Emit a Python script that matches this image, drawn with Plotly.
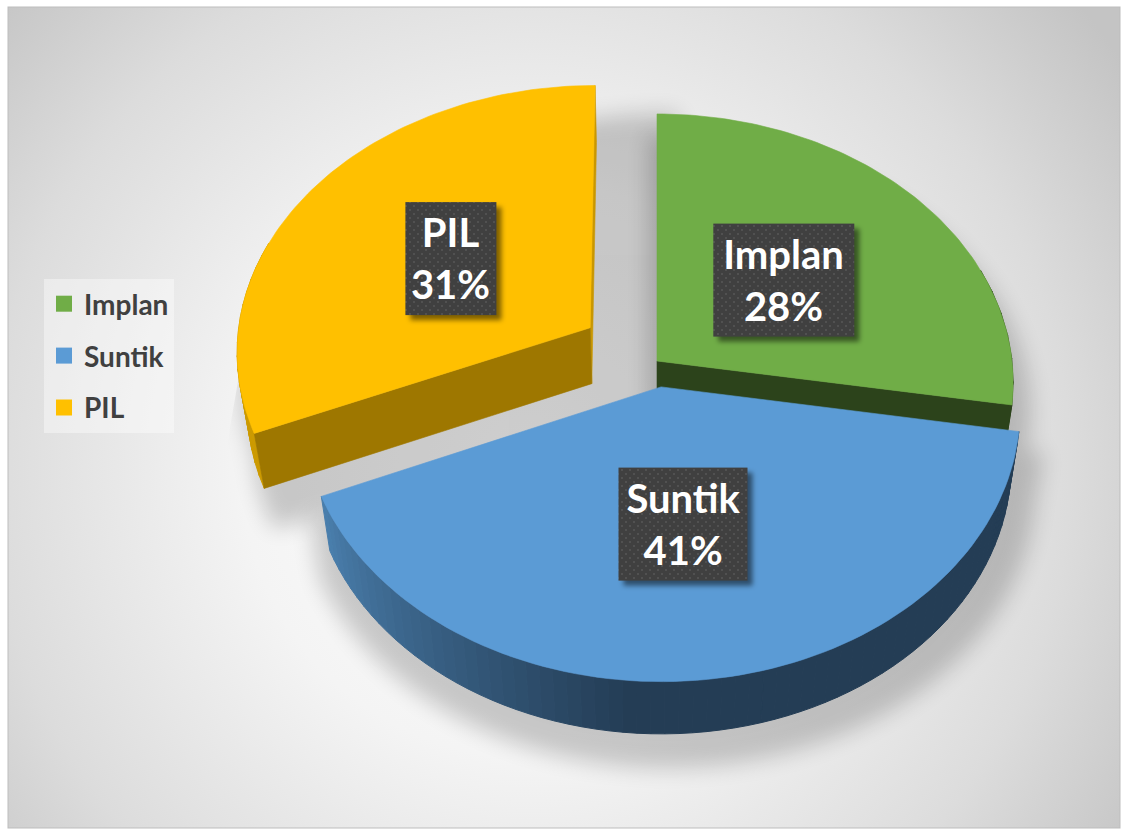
import base64
import math
import plotly.graph_objects as go

categories = ["Implan", "Suntik", "PIL"]
values = [27.6, 41.0, 31.4]
pulls = [0.0, 0.097, 0.228]
top_colors = ["#70AD47", "#5B9BD5", "#FFC000"]
wall_colors = ["#2C431B", "#243D55", "#9E7700"]
label_sizes = [(141, 113), (129, 113), (91, 113)]
label_radius = [0.48, 0.49, 0.49]
shadow_grow = [(1.07, 1.03), (1.05, 1.04), (1.22, 1.03)]
shadow_shift = [(8, 22), (8, 20), (30, 28)]

# Projection of the tilted pie on the page (pixel axes)
CX, CY, A, B, H, K, M = 657, 361, 355, 266.8, 57, 0.08, 0.025


def project(X, F, z=0.0):
    s = 1 / (1 - K * F + M * z)
    return CX + A * X * s, CY + (B * F + H * z) * s


def point(theta, r, pull, mid, z=0.0):
    X = r * math.sin(theta) + pull * math.sin(mid)
    F = -r * math.cos(theta) - pull * math.cos(mid)
    return project(X, F, z)


def hexmix(c1, c2, t):
    t = max(0, min(1, t))
    a = [int(c1[i:i + 2], 16) for i in (1, 3, 5)]
    b = [int(c2[i:i + 2], 16) for i in (1, 3, 5)]
    return "#%02x%02x%02x" % tuple(round(p + (q - p) * t) for p, q in zip(a, b))


total = sum(values)
slices = []
start = 0.0
for i, (name, v, pull, top, wall, size) in enumerate(zip(categories, values, pulls, top_colors, wall_colors, label_sizes)):
    end = start + v / total * 2 * math.pi
    slices.append(dict(name=name, v=v, pull=pull, top=top, wall=wall, size=size,
                       a0=start, a1=end, mid=(start + end) / 2, lr=label_radius[i],
                       grow=shadow_grow[i], shift=shadow_shift[i]))
    start = end


def rim(sl, z=0.0, n=90):
    return [point(sl["a0"] + (sl["a1"] - sl["a0"]) * i / n, 1, sl["pull"], sl["mid"], z) for i in range(n + 1)]


def apex(sl, z=0.0):
    return point(0, 0, sl["pull"], sl["mid"], z)


fig = go.Figure()


def poly(pts, color, width=0.6):
    xs = [p[0] for p in pts] + [pts[0][0]]
    ys = [p[1] for p in pts] + [pts[0][1]]
    fig.add_trace(go.Scatter(x=xs, y=ys, mode="lines", fill="toself", fillcolor=color,
                             line=dict(color=color, width=width), hoverinfo="skip", showlegend=False))


def side_strips(sl, color_fn, n=60):
    top, bot = rim(sl, 0, n), rim(sl, 1, n)
    for i in range(n):
        theta = sl["a0"] + (sl["a1"] - sl["a0"]) * (i + 0.5) / n
        if -math.cos(theta) > -0.35:
            poly([top[i], top[i + 1], bot[i + 1], bot[i]], color_fn(theta), 1.0)


implan, suntik, pil = slices

# PIL (far, pulled out)
poly([apex(pil), point(pil["a1"], 1, pil["pull"], pil["mid"]),
      point(pil["a1"], 1, pil["pull"], pil["mid"], 1), apex(pil, 1)], "#C99700")
side_strips(pil, lambda t: "#CC9A00", 40)
poly([apex(pil), point(pil["a0"], 1, pil["pull"], pil["mid"]),
      point(pil["a0"], 1, pil["pull"], pil["mid"], 1), apex(pil, 1)], pil["wall"])
poly([apex(pil)] + rim(pil), pil["top"])

# Implan
side_strips(implan, lambda t: "#2C431B", 20)
poly([apex(implan), point(implan["a1"], 1, 0, implan["mid"]),
      point(implan["a1"], 1, 0, implan["mid"], 1), apex(implan, 1)], implan["wall"])
poly([apex(implan)] + rim(implan), implan["top"])

# Suntik, with its shaded outer side
side_strips(suntik, lambda t: hexmix("#243D55", "#4A7FAE", (t - math.radians(185)) / (suntik["a1"] - math.radians(185))), 70)
poly([apex(suntik)] + rim(suntik), suntik["top"])

# Legend entries
for sl in slices:
    fig.add_trace(go.Scatter(x=[None], y=[None], mode="markers", name=sl["name"], legendgroup=sl["name"],
                             marker=dict(symbol="square", size=16, color=sl["top"])))


def pts_str(pts):
    return " ".join(f"{x:.1f},{y:.1f}" for x, y in pts)


def silhouette(sl):
    shapes = [[apex(sl)] + rim(sl), [apex(sl, 1)] + rim(sl, 1), rim(sl) + rim(sl, 1)[::-1]]
    all_pts = [p for s in shapes for p in s]
    cx = sum(p[0] for p in all_pts) / len(all_pts)
    ymin = min(p[1] for p in all_pts)
    gx, gy = sl["grow"]
    dx, dy = sl["shift"]
    out = ""
    for s in shapes:
        moved = [(cx + (x - cx) * gx + dx, ymin + (y - ymin) * gy + dy) for x, y in s]
        out += f'<polygon points="{pts_str(moved)}"/>'
    return out


bg_svg = f'''<svg xmlns="http://www.w3.org/2000/svg" width="1124" height="829" viewBox="0 0 1124 829">
<defs>
<radialGradient id="g" gradientUnits="userSpaceOnUse" cx="530" cy="470" r="720">
<stop offset="0" stop-color="#ffffff"/><stop offset="0.4" stop-color="#f4f4f4"/>
<stop offset="0.75" stop-color="#dcdcdc"/><stop offset="1" stop-color="#c4c4c4"/>
</radialGradient>
<filter id="b" x="-20%" y="-20%" width="140%" height="140%"><feGaussianBlur stdDeviation="11"/></filter>
<clipPath id="c"><polygon points="600,0 240,370 218,495 200,600 200,829 1124,829 1124,0"/></clipPath>
</defs>
<rect width="1124" height="829" fill="#ffffff"/>
<rect x="8" y="7" width="1112" height="821" fill="url(#g)" stroke="#bdbdbd" stroke-width="1"/>
<g clip-path="url(#c)"><g filter="url(#b)" fill="#000000" opacity="0.19">{silhouette(pil)}</g></g>
<g filter="url(#b)" fill="#000000" opacity="0.19">{silhouette(implan)}{silhouette(suntik)}</g>
</svg>'''

# Label plates (dotted dark boxes with a soft shadow), centred on each slice
anchors = [point(sl["mid"], sl["lr"], sl["pull"], sl["mid"]) for sl in slices]
plates = ""
shadows = ""
for (x, y), sl in zip(anchors, slices):
    w, h = sl["size"]
    shadows += f'<rect x="{x - w / 2 + 5:.1f}" y="{y - h / 2 + 5:.1f}" width="{w}" height="{h}"/>'
    plates += f'<rect x="{x - w / 2:.1f}" y="{y - h / 2:.1f}" width="{w}" height="{h}" fill="url(#d)"/>'
over_svg = f'''<svg xmlns="http://www.w3.org/2000/svg" width="1124" height="829" viewBox="0 0 1124 829">
<defs>
<pattern id="d" width="8" height="8" patternUnits="userSpaceOnUse">
<rect width="8" height="8" fill="#404040"/>
<circle cx="2" cy="2" r="1" fill="#565656"/><circle cx="6" cy="6" r="1" fill="#565656"/>
</pattern>
<filter id="s" x="-20%" y="-20%" width="140%" height="140%"><feGaussianBlur stdDeviation="2.5"/></filter>
</defs>
<g filter="url(#s)" fill="#000000" fill-opacity="0.5">{shadows}</g>
{plates}
</svg>'''


def uri(svg):
    return "data:image/svg+xml;base64," + base64.b64encode(svg.encode()).decode()


for (x, y), sl in zip(anchors, slices):
    w, h = sl["size"]
    fig.add_annotation(x=x, y=y, xref="x", yref="y", showarrow=False, yshift=1,
                       text=f'<b>{sl["name"]}<br>{round(sl["v"])}%</b>',
                       width=w, height=h, valign="middle", align="center",
                       font=dict(family="Lato", size=40, color="#ffffff"))

fig.update_layout(
    width=1124, height=829, margin=dict(l=0, r=0, t=0, b=0),
    paper_bgcolor="#ffffff", plot_bgcolor="rgba(0,0,0,0)",
    xaxis=dict(range=[0, 1124], visible=False, fixedrange=True),
    yaxis=dict(range=[829, 0], visible=False, fixedrange=True),
    images=[
        dict(source=uri(bg_svg), xref="paper", yref="paper", x=0, y=1, sizex=1, sizey=1,
             xanchor="left", yanchor="top", sizing="stretch", layer="below"),
        dict(source=uri(over_svg), xref="paper", yref="paper", x=0, y=1, sizex=1, sizey=1,
             xanchor="left", yanchor="top", sizing="stretch", layer="above"),
    ],
    legend=dict(x=44 / 1124, y=1 - 279 / 829, xanchor="left", yanchor="top",
                bgcolor="rgba(255,255,255,0.4)", tracegroupgap=12.5,
                font=dict(family="Lato", size=28, color="#404040", weight="bold")),
    showlegend=True,
)

fig.write_html("out.html", config={"displayModeBar": False},
               post_script="document.body.style.margin='0';document.documentElement.style.overflow='hidden';")
